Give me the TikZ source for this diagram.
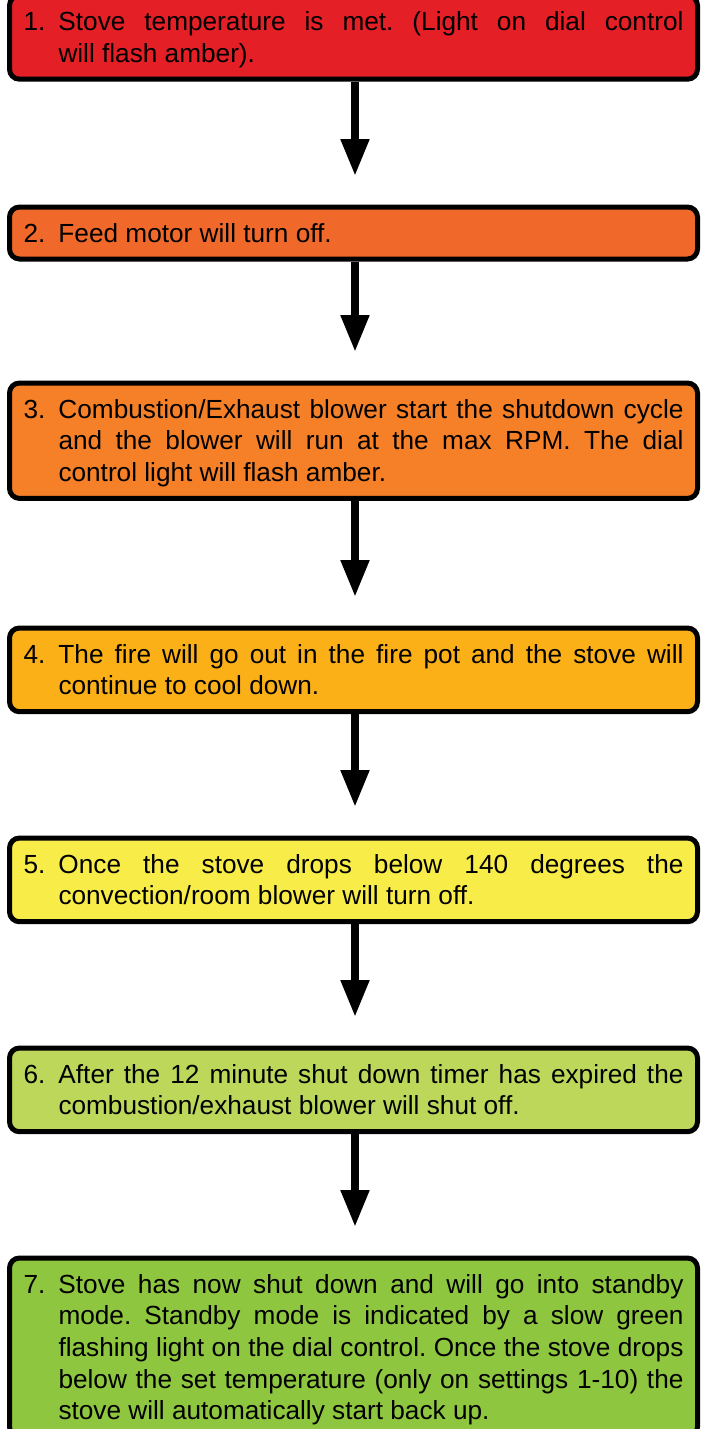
\documentclass[tikz,border=0pt]{standalone}
\usepackage{fontspec}
\setmainfont{Liberation Sans}
\usetikzlibrary{arrows.meta}
\definecolor{cred}{RGB}{228,31,38}
\definecolor{corangeA}{RGB}{241,105,42}
\definecolor{corangeB}{RGB}{245,128,40}
\definecolor{camber}{RGB}{251,176,24}
\definecolor{cyellow}{RGB}{248,236,72}
\definecolor{clime}{RGB}{188,215,90}
\definecolor{cgreen}{RGB}{142,198,63}
\newcommand\steptext[2]{\frenchspacing\tolerance=10000\hbadness=10000\hyphenpenalty=10000\noindent\hangindent=35pt\hangafter=1\rule{0pt}{35pt}\makebox[35pt][l]{#1}#2\rule[-17pt]{0pt}{17pt}\par}
\begin{document}
\begin{tikzpicture}[x=1pt,y=-1pt,
  stepbox/.style={draw=black, line width=5pt, rounded corners=10pt,
    text width=660pt, inner xsep=14pt, inner ysep=0pt, anchor=north,
    align=justify, font=\fontsize{26.2}{31.7}\selectfont},
  flow/.style={line width=8pt, -{Triangle[width=27pt,length=37pt]}, shorten >=28.5pt}]
\useasboundingbox (0,0) rectangle (701,1429);
\clip (0,0) rectangle (701,1429);
\fill[white] (0,0) rectangle (701,1429);
\coordinate (ax) at (355,0);
\node[stepbox, fill=cred] (b1) at (353.5,-7) {\steptext{1.}{Stove temperature is met. (Light on dial control\linebreak will flash amber).}};
\node[stepbox, fill=corangeA] (b2) at (353.5,204.5) {\steptext{2.}{Feed motor will turn off.}};
\node[stepbox, fill=corangeB] (b3) at (353.5,380.5) {\steptext{3.}{Combustion/Exhaust blower start the shutdown cycle\linebreak and the blower will run at the max RPM. The dial\linebreak control light will flash amber.}};
\node[stepbox, fill=camber] (b4) at (353.5,625.5) {\steptext{4.}{The fire will go out in the fire pot and the stove will\linebreak continue to cool down.}};
\node[stepbox, fill=cyellow] (b5) at (353.5,835.5) {\steptext{5.}{Once the stove drops below 140 degrees the\linebreak convection/room blower will turn off.}};
\node[stepbox, fill=clime] (b6) at (353.5,1045.5) {\steptext{6.}{After the 12 minute shut down timer has expired the\linebreak combustion/exhaust blower will shut off.}};
\node[stepbox, fill=cgreen] (b7) at (353.5,1255.5) {\steptext{7.}{Stove has now shut down and will go into standby\linebreak mode. Standby mode is indicated by a slow green\linebreak flashing light on the dial control. Once the stove drops\linebreak below the set temperature (only on settings 1-10) the\linebreak stove will automatically start back up.}};
\draw[flow] (b1.south -| ax) -- (b2.north -| ax);
\draw[flow] (b2.south -| ax) -- (b3.north -| ax);
\draw[flow] (b3.south -| ax) -- (b4.north -| ax);
\draw[flow] (b4.south -| ax) -- (b5.north -| ax);
\draw[flow] (b5.south -| ax) -- (b6.north -| ax);
\draw[flow] (b6.south -| ax) -- (b7.north -| ax);
\end{tikzpicture}
\end{document}
